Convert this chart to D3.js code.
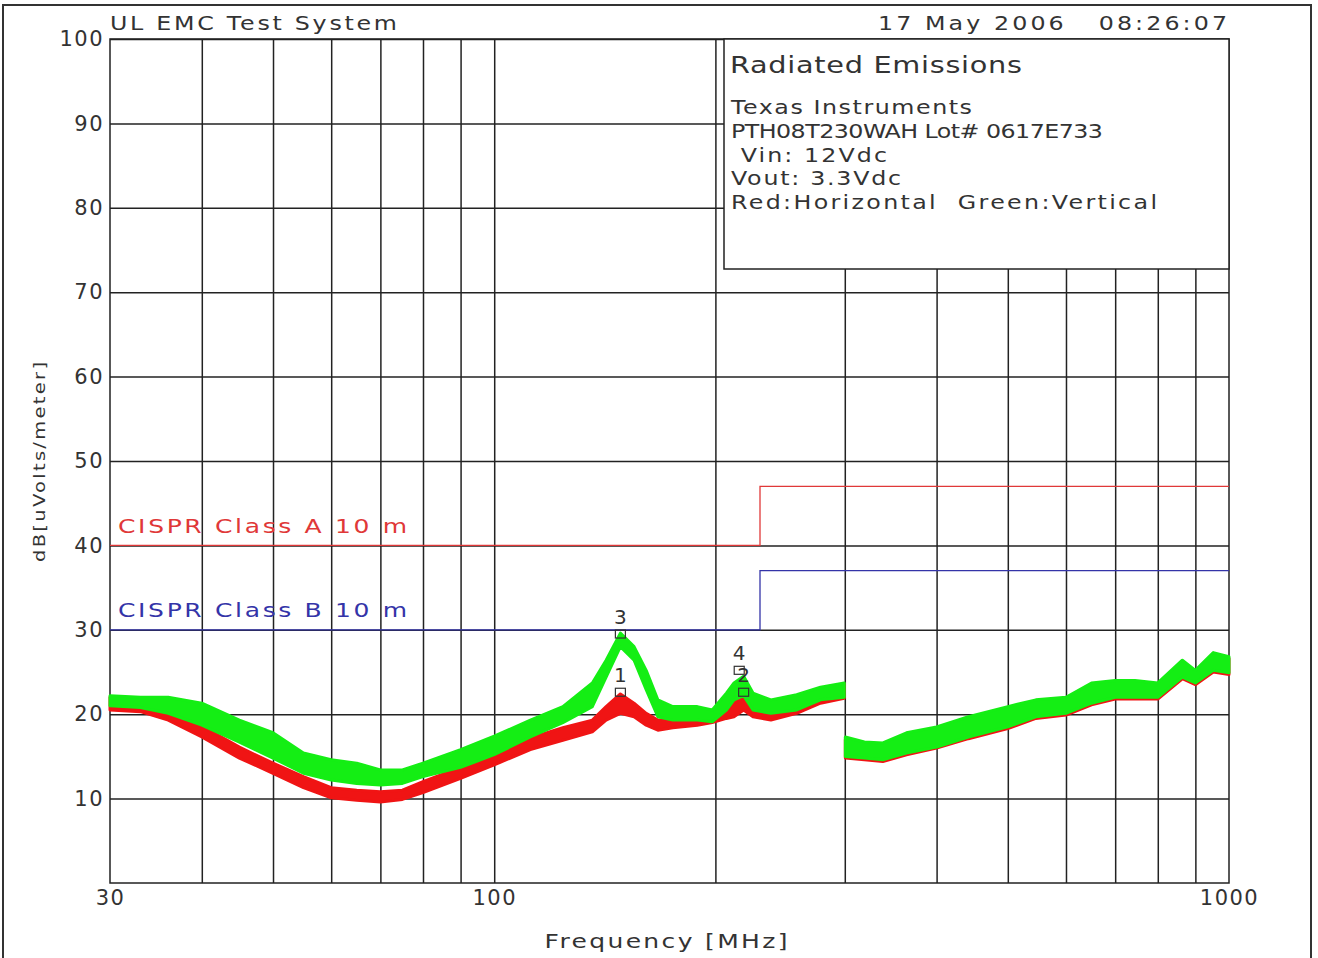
<!DOCTYPE html>
<html>
<head>
<meta charset="utf-8">
<script src="https://cdn.jsdelivr.net/npm/d3@7"></script>
<style>
  body { margin: 0; background: #fff; }
  svg { display: block; }
  text { font-family: "DejaVu Sans", sans-serif; fill: #333; }
</style>
</head>
<body>
<svg id="chart" width="1318" height="958"></svg>
<script>
// grid / ticks
const gridFreqs = [40, 50, 60, 70, 80, 90, 100, 200, 300, 400, 500, 600, 700, 800, 900]
const freqLabels = [30, 100, 1000]
const levelTicks = [10, 20, 30, 40, 50, 60, 70, 80, 90, 100]

// limit lines: [freq, dB]
const classA = [[30, 40], [230, 47], [1000, 47]]
const classB = [[30, 30], [230, 37], [1000, 37]]

// traces as [freq MHz, low dB, high dB]
// red = horizontal, green = vertical; scan breaks at 300 MHz
const redLow = [
  [30, 20.5, 22.0], [33, 20.3, 21.3], [36, 19.3, 20.5], [40, 17.3, 18.6], [45, 14.8, 16.1],
  [50, 13.0, 14.2], [55, 11.3, 12.6], [60, 10.1, 11.3], [65, 9.8, 11.0], [70, 9.6, 10.8],
  [75, 9.9, 11.0], [80, 10.7, 12.0], [90, 12.4, 13.7], [100, 14.0, 15.4], [112, 15.8, 17.2],
  [124, 16.9, 18.4], [136, 17.9, 19.3], [142, 19.3, 20.9], [148.5, 20.1, 22.4], [155, 19.7, 21.3],
  [161, 18.7, 20.1], [167, 18.1, 19.3], [175, 18.4, 19.3], [189, 18.7, 19.7], [198, 19.0, 19.8],
  [207, 19.5, 20.8], [212, 19.7, 21.3], [218.5, 20.5, 22.3], [225, 19.7, 20.9], [238, 19.3, 20.5],
  [258, 20.1, 21.7], [278, 21.3, 22.9], [299.5, 21.9, 23.6]
]
const greenLow = [
  [30, 21.0, 22.2], [33, 20.8, 22.0], [36, 20.1, 22.0], [40, 18.7, 21.3], [45, 16.7, 19.3],
  [50, 14.8, 17.8], [55, 13.0, 15.4], [60, 12.2, 14.6], [65, 11.8, 14.2], [70, 11.6, 13.4],
  [75, 11.8, 13.4], [80, 12.6, 14.2], [90, 13.7, 15.8], [100, 15.2, 17.4], [112, 17.3, 19.3],
  [124, 19.0, 20.9], [136, 20.9, 23.7], [142, 24.4, 26.4], [148.5, 28.0, 29.6], [155, 26.4, 28.0],
  [161, 22.9, 25.2], [167, 19.7, 21.7], [175, 19.3, 20.9], [189, 19.3, 20.9], [198, 19.1, 20.5],
  [207, 20.5, 22.5], [212, 21.7, 23.7], [218.5, 22.2, 24.5], [225, 20.5, 22.5], [238, 20.1, 21.7],
  [258, 20.5, 22.3], [278, 21.7, 23.2], [299.5, 22.0, 23.7]
]
const redHigh = [
  [300.5, 14.8, 17.0], [319, 14.6, 16.5], [338, 14.4, 16.4], [364, 15.2, 17.6], [400, 16.0, 18.3],
  [442, 17.1, 19.5], [500, 18.3, 20.7], [546, 19.5, 21.5], [600, 19.9, 21.8], [650, 21.1, 23.5],
  [700, 21.8, 23.8], [745, 21.8, 23.8], [800, 21.8, 23.5], [864, 24.2, 26.2], [900, 23.5, 25.0],
  [952, 25.0, 27.1], [1000, 24.7, 26.6]
]
const greenHigh = [
  [300.5, 15.0, 17.3], [319, 14.8, 16.7], [338, 14.6, 16.6], [364, 15.4, 17.8], [400, 16.1, 18.5],
  [442, 17.3, 19.7], [500, 18.5, 20.9], [546, 19.7, 21.7], [600, 20.1, 22.0], [650, 21.3, 23.7],
  [700, 22.0, 24.0], [745, 22.0, 24.0], [800, 22.0, 23.7], [864, 24.4, 26.4], [900, 23.7, 25.2],
  [952, 25.2, 27.3], [1000, 24.9, 26.8]
]

// peak markers
const markerLabels = ["1", "2", "3", "4"]
const markerFreqs = [148.5, 218.5, 148.5, 215.5]
const markerLevels = [22.6, 22.6, 29.5, 25.2]

const infoLines = [
  "Texas Instruments",
  "PTH08T230WAH Lot# 0617E733",
  " Vin: 12Vdc",
  "Vout: 3.3Vdc",
  "Red:Horizontal  Green:Vertical"
]
const infoWidths = [241, 372, 156, 170, 426]

const ink = "#333"
const svg = d3.select("#chart")
const plotL = 110, plotR = 1229, plotT = 39, plotB = 883

const x = d3.scaleLog().domain([30, 1000]).range([plotL, plotR])
const y = d3.scaleLinear().domain([0, 100]).range([plotB, plotT])

// text with a horizontal stretch, the plotter font is wide
const label = (g, str, px, py, size, len, anchor = "start", color = ink, sx = 1.25) => {
  const t = g.append("text")
    .attr("x", px / sx).attr("y", py)
    .attr("transform", `scale(${sx},1)`)
    .attr("font-size", size)
    .attr("text-anchor", anchor)
    .attr("xml:space", "preserve")
    .style("fill", color)
    .text(str)
  if (len) t.attr("textLength", len / sx).attr("lengthAdjust", "spacing")
  return t
}

// outer frame
svg.append("path")
  .attr("d", "M3,958V5H1311V958")
  .attr("fill", "none").attr("stroke", ink).attr("stroke-width", 2)

// grid via axes
const vGrid = svg.append("g")
  .attr("transform", `translate(0,${plotB})`)
  .call(d3.axisBottom(x).tickValues(gridFreqs).tickSize(-(plotB - plotT)).tickFormat(""))
const hGrid = svg.append("g")
  .attr("transform", `translate(${plotL},0)`)
  .call(d3.axisLeft(y).tickValues(levelTicks).tickSize(-(plotR - plotL)).tickFormat(""))
;[vGrid, hGrid].forEach(g => {
  g.select(".domain").remove()
  g.selectAll("line").attr("stroke", "#222").attr("stroke-width", 1.5)
})

svg.append("rect")
  .attr("x", plotL).attr("y", plotT)
  .attr("width", plotR - plotL).attr("height", plotB - plotT)
  .attr("fill", "none").attr("stroke", "#222").attr("stroke-width", 1.5)

// tick labels
const xLab = svg.append("g")
  .attr("transform", `translate(0,${plotB})`)
  .call(d3.axisBottom(x).tickValues(freqLabels).tickSize(0).tickPadding(7).tickFormat(d3.format("d")))
const yLab = svg.append("g")
  .attr("transform", `translate(${plotL},0)`)
  .call(d3.axisLeft(y).tickValues(levelTicks).tickSize(0).tickPadding(6).tickFormat(d3.format("d")))
;[xLab, yLab].forEach(g => {
  g.select(".domain").remove()
  g.selectAll("text")
    .attr("font-family", "DejaVu Sans Mono")
    .attr("font-size", 21)
    .attr("letter-spacing", 1.5)
    .style("fill", ink)
})

// info box
const box = svg.append("g")
box.append("rect")
  .attr("x", 724).attr("y", plotT).attr("width", plotR - 724).attr("height", 230)
  .attr("fill", "#fff").attr("stroke", "#222").attr("stroke-width", 1.5)
label(box, "Radiated Emissions", 730, 73, 23, 292)
infoLines.forEach((s, i) => {
  label(box, s, 731, 114 + i * 23.8, 19, infoWidths[i])
})

// limit lines
const limitLine = d3.line().x(d => x(d[0])).y(d => y(d[1])).curve(d3.curveStepAfter)
svg.append("path").datum(classA)
  .attr("d", limitLine).attr("fill", "none").attr("stroke", "#e03838").attr("stroke-width", 1.3)
svg.append("path").datum(classB)
  .attr("d", limitLine).attr("fill", "none").attr("stroke", "#3434a8").attr("stroke-width", 1.3)
label(svg, "CISPR Class A 10 m", 118, 533, 20, 289, "start", "#e03838")
label(svg, "CISPR Class B 10 m", 118, 617, 20, 289, "start", "#3434a8")

// traces
const band = d3.area()
  .x(d => x(d[0]))
  .y0(d => y(d[1]))
  .y1(d => y(d[2]))
const traces = [
  [redLow, "#f01414"], [redHigh, "#f01414"],
  [greenLow, "#14ee14"], [greenHigh, "#14ee14"]
]
traces.forEach(([data, color]) => {
  svg.append("path").datum(data)
    .attr("d", band)
    .attr("fill", color)
    .attr("stroke", color)
    .attr("stroke-width", 3)
    .attr("stroke-linejoin", "round")
})

// markers
const markers = svg.append("g")
markerLabels.forEach((m, i) => {
  const mx = x(markerFreqs[i]), my = y(markerLevels[i])
  markers.append("rect")
    .attr("x", mx - 5).attr("y", my - 4)
    .attr("width", 10).attr("height", 8)
    .attr("fill", "none").attr("stroke", ink).attr("stroke-width", 1.2)
  label(markers, m, mx, my - 10, 20, null, "middle", ink, 1)
})

// titles
label(svg, "UL EMC Test System", 110, 30, 19, 287)
label(svg, "17 May 2006   08:26:07", 878, 30, 19, 349)
label(svg, "Frequency [MHz]", 666, 948, 20, 243, "middle")
label(svg, "dB[uVolts/meter]", 0, 0, 15, 200, "middle", ink, 1.3)
  .attr("transform", "translate(45,462) rotate(-90) scale(1.3,1)")
</script>
</body>
</html>
